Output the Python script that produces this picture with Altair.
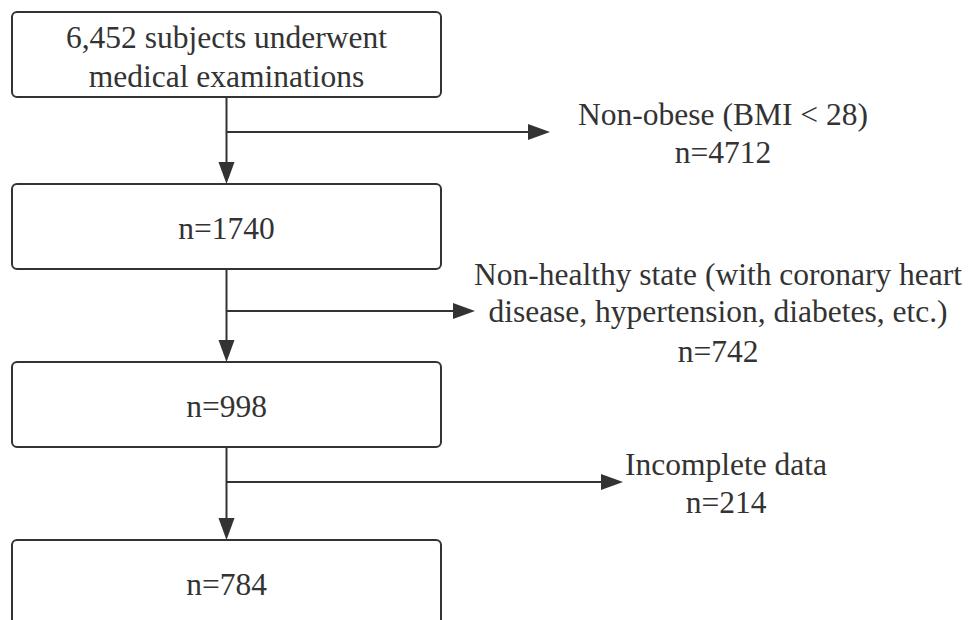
import altair as alt
import pandas as pd

# ---------------- content ----------------
box_lines = [
    ["6,452 subjects underwent", "medical examinations"],
    ["n=1740"],
    ["n=998"],
    ["n=784"],
]
excl_lines = [
    ["Non-obese (BMI < 28)", "n=4712"],
    ["Non-healthy state (with coronary heart", "disease, hypertension, diabetes, etc.)", "n=742"],
    ["Incomplete data", "n=214"],
]

# ---------------- layout (page pixel coordinates) ----------------
BOX_X0, BOX_X1 = 12, 441
box_tops = [12, 184, 362, 540]
BOX_H = 85
TRUNK_X = 226.5
branch_y = [132, 311, 482]
branch_tip = [550, 475, 623]
excl_cx = [723, 718, 726]
box_baselines = [[47.5, 86.5], [239], [416.5], [595]]
excl_baselines = [[125, 163], [285, 322, 362], [475, 513]]

HEAD_L = 22
COLOR = "#333333"
FONT = "Liberation Serif"
FS = 31.5

W, H = 960, 612
X = alt.Scale(domain=[8, 8 + W], nice=False, zero=False)
Y = alt.Scale(domain=[8, 8 + H], nice=False, zero=False, reverse=True)

# boxes
boxes = pd.DataFrame({
    "x": [BOX_X0] * 4,
    "x2": [BOX_X1] * 4,
    "y": box_tops,
    "y2": [t + BOX_H for t in box_tops],
})

# vertical trunk segments (box bottom -> next box top)
vseg = pd.DataFrame({
    "x": [TRUNK_X] * 3,
    "y": [t + BOX_H for t in box_tops[:3]],
    "y2": [t - 4 for t in box_tops[1:]],
})
# horizontal branches
hseg = pd.DataFrame({
    "x": [TRUNK_X] * 3,
    "x2": [t - 6 for t in branch_tip],
    "y": branch_y,
})
# arrow heads
down_heads = pd.DataFrame({"x": [TRUNK_X] * 3, "y": [t - HEAD_L / 2 for t in box_tops[1:]]})
right_heads = pd.DataFrame({"x": [t - HEAD_L / 2 for t in branch_tip], "y": branch_y})

# texts
rows = []
for lines, bls in zip(box_lines, box_baselines):
    for s, b in zip(lines, bls):
        rows.append({"t": s, "x": (BOX_X0 + BOX_X1) / 2, "y": b})
for lines, bls, cx in zip(excl_lines, excl_baselines, excl_cx):
    for s, b in zip(lines, bls):
        rows.append({"t": s, "x": cx, "y": b})
texts = pd.DataFrame(rows)

ax = dict(axis=None)

box_layer = alt.Chart(boxes).mark_rect(
    cornerRadius=5, fill="white", stroke=COLOR, strokeWidth=2, clip=True
).encode(
    x=alt.X("x:Q", scale=X, **ax), x2="x2:Q",
    y=alt.Y("y:Q", scale=Y, **ax), y2="y2:Q",
)

v_layer = alt.Chart(vseg).mark_rule(color=COLOR, strokeWidth=2).encode(
    x=alt.X("x:Q", scale=X, **ax),
    y=alt.Y("y:Q", scale=Y, **ax), y2="y2:Q",
)
h_layer = alt.Chart(hseg).mark_rule(color=COLOR, strokeWidth=2).encode(
    x=alt.X("x:Q", scale=X, **ax), x2="x2:Q",
    y=alt.Y("y:Q", scale=Y, **ax),
)

down_layer = alt.Chart(down_heads).mark_point(
    shape="M-0.73,-1L0.73,-1L0,1Z", filled=True, fill=COLOR, strokeWidth=0,
    size=HEAD_L ** 2, opacity=1,
).encode(x=alt.X("x:Q", scale=X, **ax), y=alt.Y("y:Q", scale=Y, **ax))

right_layer = alt.Chart(right_heads).mark_point(
    shape="M-1,-0.73L1,0L-1,0.73Z", filled=True, fill=COLOR, strokeWidth=0,
    size=HEAD_L ** 2, opacity=1,
).encode(x=alt.X("x:Q", scale=X, **ax), y=alt.Y("y:Q", scale=Y, **ax))

text_layer = alt.Chart(texts).mark_text(
    font=FONT, fontSize=FS, color=COLOR, align="center", baseline="alphabetic"
).encode(
    x=alt.X("x:Q", scale=X, **ax),
    y=alt.Y("y:Q", scale=Y, **ax),
    text="t:N",
)

chart = alt.layer(
    v_layer, h_layer, box_layer, down_layer, right_layer, text_layer
).properties(
    width=W, height=H, autosize="none", padding=0, background="white"
).configure_view(strokeWidth=0)

chart.save("out.html", embed_options={"renderer": "svg", "actions": False})
